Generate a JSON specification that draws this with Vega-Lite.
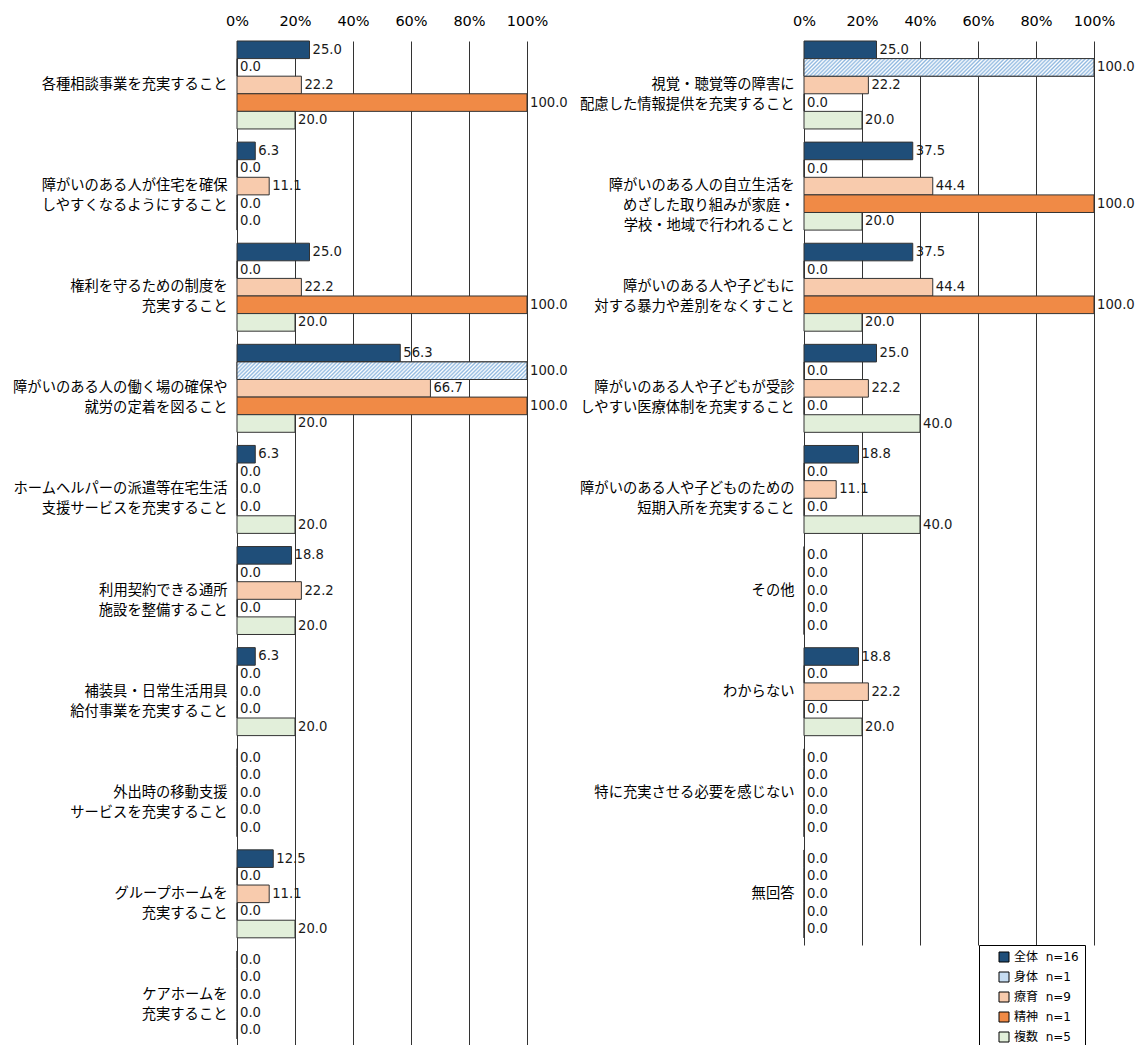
{
"$schema": "https://vega.github.io/schema/vega-lite/v6.json",
"background": "white",
"padding": {"left": 12, "top": 13, "right": 0, "bottom": 0},
"datasets": {"rows": [
{"panel":"L","item":"各種相談事業を充実すること","group":"全体","value":25.0},
{"panel":"L","item":"各種相談事業を充実すること","group":"身体","value":0.0},
{"panel":"L","item":"各種相談事業を充実すること","group":"療育","value":22.2},
{"panel":"L","item":"各種相談事業を充実すること","group":"精神","value":100.0},
{"panel":"L","item":"各種相談事業を充実すること","group":"複数","value":20.0},
{"panel":"L","item":"障がいのある人が住宅を確保|しやすくなるようにすること","group":"全体","value":6.3},
{"panel":"L","item":"障がいのある人が住宅を確保|しやすくなるようにすること","group":"身体","value":0.0},
{"panel":"L","item":"障がいのある人が住宅を確保|しやすくなるようにすること","group":"療育","value":11.1},
{"panel":"L","item":"障がいのある人が住宅を確保|しやすくなるようにすること","group":"精神","value":0.0},
{"panel":"L","item":"障がいのある人が住宅を確保|しやすくなるようにすること","group":"複数","value":0.0},
{"panel":"L","item":"権利を守るための制度を|充実すること","group":"全体","value":25.0},
{"panel":"L","item":"権利を守るための制度を|充実すること","group":"身体","value":0.0},
{"panel":"L","item":"権利を守るための制度を|充実すること","group":"療育","value":22.2},
{"panel":"L","item":"権利を守るための制度を|充実すること","group":"精神","value":100.0},
{"panel":"L","item":"権利を守るための制度を|充実すること","group":"複数","value":20.0},
{"panel":"L","item":"障がいのある人の働く場の確保や|就労の定着を図ること","group":"全体","value":56.3},
{"panel":"L","item":"障がいのある人の働く場の確保や|就労の定着を図ること","group":"身体","value":100.0},
{"panel":"L","item":"障がいのある人の働く場の確保や|就労の定着を図ること","group":"療育","value":66.7},
{"panel":"L","item":"障がいのある人の働く場の確保や|就労の定着を図ること","group":"精神","value":100.0},
{"panel":"L","item":"障がいのある人の働く場の確保や|就労の定着を図ること","group":"複数","value":20.0},
{"panel":"L","item":"ホームヘルパーの派遣等在宅生活|支援サービスを充実すること","group":"全体","value":6.3},
{"panel":"L","item":"ホームヘルパーの派遣等在宅生活|支援サービスを充実すること","group":"身体","value":0.0},
{"panel":"L","item":"ホームヘルパーの派遣等在宅生活|支援サービスを充実すること","group":"療育","value":0.0},
{"panel":"L","item":"ホームヘルパーの派遣等在宅生活|支援サービスを充実すること","group":"精神","value":0.0},
{"panel":"L","item":"ホームヘルパーの派遣等在宅生活|支援サービスを充実すること","group":"複数","value":20.0},
{"panel":"L","item":"利用契約できる通所|施設を整備すること","group":"全体","value":18.8},
{"panel":"L","item":"利用契約できる通所|施設を整備すること","group":"身体","value":0.0},
{"panel":"L","item":"利用契約できる通所|施設を整備すること","group":"療育","value":22.2},
{"panel":"L","item":"利用契約できる通所|施設を整備すること","group":"精神","value":0.0},
{"panel":"L","item":"利用契約できる通所|施設を整備すること","group":"複数","value":20.0},
{"panel":"L","item":"補装具・日常生活用具|給付事業を充実すること","group":"全体","value":6.3},
{"panel":"L","item":"補装具・日常生活用具|給付事業を充実すること","group":"身体","value":0.0},
{"panel":"L","item":"補装具・日常生活用具|給付事業を充実すること","group":"療育","value":0.0},
{"panel":"L","item":"補装具・日常生活用具|給付事業を充実すること","group":"精神","value":0.0},
{"panel":"L","item":"補装具・日常生活用具|給付事業を充実すること","group":"複数","value":20.0},
{"panel":"L","item":"外出時の移動支援|サービスを充実すること","group":"全体","value":0.0},
{"panel":"L","item":"外出時の移動支援|サービスを充実すること","group":"身体","value":0.0},
{"panel":"L","item":"外出時の移動支援|サービスを充実すること","group":"療育","value":0.0},
{"panel":"L","item":"外出時の移動支援|サービスを充実すること","group":"精神","value":0.0},
{"panel":"L","item":"外出時の移動支援|サービスを充実すること","group":"複数","value":0.0},
{"panel":"L","item":"グループホームを|充実すること","group":"全体","value":12.5},
{"panel":"L","item":"グループホームを|充実すること","group":"身体","value":0.0},
{"panel":"L","item":"グループホームを|充実すること","group":"療育","value":11.1},
{"panel":"L","item":"グループホームを|充実すること","group":"精神","value":0.0},
{"panel":"L","item":"グループホームを|充実すること","group":"複数","value":20.0},
{"panel":"L","item":"ケアホームを|充実すること","group":"全体","value":0.0},
{"panel":"L","item":"ケアホームを|充実すること","group":"身体","value":0.0},
{"panel":"L","item":"ケアホームを|充実すること","group":"療育","value":0.0},
{"panel":"L","item":"ケアホームを|充実すること","group":"精神","value":0.0},
{"panel":"L","item":"ケアホームを|充実すること","group":"複数","value":0.0},
{"panel":"R","item":"視覚・聴覚等の障害に|配慮した情報提供を充実すること","group":"全体","value":25.0},
{"panel":"R","item":"視覚・聴覚等の障害に|配慮した情報提供を充実すること","group":"身体","value":100.0},
{"panel":"R","item":"視覚・聴覚等の障害に|配慮した情報提供を充実すること","group":"療育","value":22.2},
{"panel":"R","item":"視覚・聴覚等の障害に|配慮した情報提供を充実すること","group":"精神","value":0.0},
{"panel":"R","item":"視覚・聴覚等の障害に|配慮した情報提供を充実すること","group":"複数","value":20.0},
{"panel":"R","item":"障がいのある人の自立生活を|めざした取り組みが家庭・|学校・地域で行われること","group":"全体","value":37.5},
{"panel":"R","item":"障がいのある人の自立生活を|めざした取り組みが家庭・|学校・地域で行われること","group":"身体","value":0.0},
{"panel":"R","item":"障がいのある人の自立生活を|めざした取り組みが家庭・|学校・地域で行われること","group":"療育","value":44.4},
{"panel":"R","item":"障がいのある人の自立生活を|めざした取り組みが家庭・|学校・地域で行われること","group":"精神","value":100.0},
{"panel":"R","item":"障がいのある人の自立生活を|めざした取り組みが家庭・|学校・地域で行われること","group":"複数","value":20.0},
{"panel":"R","item":"障がいのある人や子どもに|対する暴力や差別をなくすこと","group":"全体","value":37.5},
{"panel":"R","item":"障がいのある人や子どもに|対する暴力や差別をなくすこと","group":"身体","value":0.0},
{"panel":"R","item":"障がいのある人や子どもに|対する暴力や差別をなくすこと","group":"療育","value":44.4},
{"panel":"R","item":"障がいのある人や子どもに|対する暴力や差別をなくすこと","group":"精神","value":100.0},
{"panel":"R","item":"障がいのある人や子どもに|対する暴力や差別をなくすこと","group":"複数","value":20.0},
{"panel":"R","item":"障がいのある人や子どもが受診|しやすい医療体制を充実すること","group":"全体","value":25.0},
{"panel":"R","item":"障がいのある人や子どもが受診|しやすい医療体制を充実すること","group":"身体","value":0.0},
{"panel":"R","item":"障がいのある人や子どもが受診|しやすい医療体制を充実すること","group":"療育","value":22.2},
{"panel":"R","item":"障がいのある人や子どもが受診|しやすい医療体制を充実すること","group":"精神","value":0.0},
{"panel":"R","item":"障がいのある人や子どもが受診|しやすい医療体制を充実すること","group":"複数","value":40.0},
{"panel":"R","item":"障がいのある人や子どものための|短期入所を充実すること","group":"全体","value":18.8},
{"panel":"R","item":"障がいのある人や子どものための|短期入所を充実すること","group":"身体","value":0.0},
{"panel":"R","item":"障がいのある人や子どものための|短期入所を充実すること","group":"療育","value":11.1},
{"panel":"R","item":"障がいのある人や子どものための|短期入所を充実すること","group":"精神","value":0.0},
{"panel":"R","item":"障がいのある人や子どものための|短期入所を充実すること","group":"複数","value":40.0},
{"panel":"R","item":"その他","group":"全体","value":0.0},
{"panel":"R","item":"その他","group":"身体","value":0.0},
{"panel":"R","item":"その他","group":"療育","value":0.0},
{"panel":"R","item":"その他","group":"精神","value":0.0},
{"panel":"R","item":"その他","group":"複数","value":0.0},
{"panel":"R","item":"わからない","group":"全体","value":18.8},
{"panel":"R","item":"わからない","group":"身体","value":0.0},
{"panel":"R","item":"わからない","group":"療育","value":22.2},
{"panel":"R","item":"わからない","group":"精神","value":0.0},
{"panel":"R","item":"わからない","group":"複数","value":20.0},
{"panel":"R","item":"特に充実させる必要を感じない","group":"全体","value":0.0},
{"panel":"R","item":"特に充実させる必要を感じない","group":"身体","value":0.0},
{"panel":"R","item":"特に充実させる必要を感じない","group":"療育","value":0.0},
{"panel":"R","item":"特に充実させる必要を感じない","group":"精神","value":0.0},
{"panel":"R","item":"特に充実させる必要を感じない","group":"複数","value":0.0},
{"panel":"R","item":"無回答","group":"全体","value":0.0},
{"panel":"R","item":"無回答","group":"身体","value":0.0},
{"panel":"R","item":"無回答","group":"療育","value":0.0},
{"panel":"R","item":"無回答","group":"精神","value":0.0},
{"panel":"R","item":"無回答","group":"複数","value":0.0}
]},
"hconcat": [
{
"width": 290, "height": 1005,
"data": {"name": "rows"},
"transform": [{"filter": "datum.panel === 'L'"}],
"encoding": {
"x": {"field": "value", "type": "quantitative", "scale": {"domain": [0, 100]}, "axis": {"orient": "top", "values": [0, 20, 40, 60, 80, 100], "labelExpr": "datum.value + '%'", "ticks": false, "domain": false, "grid": true, "gridColor": "#333333", "gridWidth": 1, "labelFont": "DejaVu Sans", "labelFontSize": 14.5, "labelPadding": 13, "labelFlush": false, "labelColor": "#000", "title": null}},
"y": {"field": "item", "type": "nominal", "sort": null, "scale": {"paddingInner": 0.13, "paddingOuter": 0.035, "align": 0}, "axis": {"title": null, "ticks": false, "domain": false, "labelExpr": "split(datum.label, '|')", "labelFont": "Noto Sans CJK JP", "labelFontSize": 14.3, "labelLineHeight": 20, "labelPadding": 10, "labelColor": "#000", "labelLimit": 0}},
"yOffset": {"field": "group", "type": "nominal", "sort": ["全体", "身体", "療育", "精神", "複数"], "scale": {"paddingInner": 0, "paddingOuter": 0}}
},
"layer": [
{"mark": {"type": "bar", "stroke": "#333333", "strokeWidth": 1},
 "encoding": {"color": {"field": "group", "type": "nominal", "scale": {"domain": ["全体", "身体", "療育", "精神", "複数"], "range": ["#1f4e79", "#c5dcf1", "#f8cbad", "#f08a46", "#e2efda"]}, "legend": null}}},
{"mark": {"type": "bar", "stroke": "#333333", "strokeWidth": 1, "fill": {"gradient": "linear", "x1": 0, "y1": 0, "x2": 1.06, "y2": 0.0643, "stops": [
{"offset":0,"color":"#8fb8e0"},{"offset":0.00625,"color":"#ffffff"},{"offset":0.0125,"color":"#8fb8e0"},{"offset":0.01875,"color":"#ffffff"},{"offset":0.025,"color":"#8fb8e0"},{"offset":0.03125,"color":"#ffffff"},{"offset":0.0375,"color":"#8fb8e0"},{"offset":0.04375,"color":"#ffffff"},{"offset":0.05,"color":"#8fb8e0"},{"offset":0.05625,"color":"#ffffff"},{"offset":0.0625,"color":"#8fb8e0"},{"offset":0.06875,"color":"#ffffff"},{"offset":0.075,"color":"#8fb8e0"},{"offset":0.08125,"color":"#ffffff"},{"offset":0.0875,"color":"#8fb8e0"},{"offset":0.09375,"color":"#ffffff"},
{"offset":0.1,"color":"#8fb8e0"},{"offset":0.10625,"color":"#ffffff"},{"offset":0.1125,"color":"#8fb8e0"},{"offset":0.11875,"color":"#ffffff"},{"offset":0.125,"color":"#8fb8e0"},{"offset":0.13125,"color":"#ffffff"},{"offset":0.1375,"color":"#8fb8e0"},{"offset":0.14375,"color":"#ffffff"},{"offset":0.15,"color":"#8fb8e0"},{"offset":0.15625,"color":"#ffffff"},{"offset":0.1625,"color":"#8fb8e0"},{"offset":0.16875,"color":"#ffffff"},{"offset":0.175,"color":"#8fb8e0"},{"offset":0.18125,"color":"#ffffff"},{"offset":0.1875,"color":"#8fb8e0"},{"offset":0.19375,"color":"#ffffff"},
{"offset":0.2,"color":"#8fb8e0"},{"offset":0.20625,"color":"#ffffff"},{"offset":0.2125,"color":"#8fb8e0"},{"offset":0.21875,"color":"#ffffff"},{"offset":0.225,"color":"#8fb8e0"},{"offset":0.23125,"color":"#ffffff"},{"offset":0.2375,"color":"#8fb8e0"},{"offset":0.24375,"color":"#ffffff"},{"offset":0.25,"color":"#8fb8e0"},{"offset":0.25625,"color":"#ffffff"},{"offset":0.2625,"color":"#8fb8e0"},{"offset":0.26875,"color":"#ffffff"},{"offset":0.275,"color":"#8fb8e0"},{"offset":0.28125,"color":"#ffffff"},{"offset":0.2875,"color":"#8fb8e0"},{"offset":0.29375,"color":"#ffffff"},
{"offset":0.3,"color":"#8fb8e0"},{"offset":0.30625,"color":"#ffffff"},{"offset":0.3125,"color":"#8fb8e0"},{"offset":0.31875,"color":"#ffffff"},{"offset":0.325,"color":"#8fb8e0"},{"offset":0.33125,"color":"#ffffff"},{"offset":0.3375,"color":"#8fb8e0"},{"offset":0.34375,"color":"#ffffff"},{"offset":0.35,"color":"#8fb8e0"},{"offset":0.35625,"color":"#ffffff"},{"offset":0.3625,"color":"#8fb8e0"},{"offset":0.36875,"color":"#ffffff"},{"offset":0.375,"color":"#8fb8e0"},{"offset":0.38125,"color":"#ffffff"},{"offset":0.3875,"color":"#8fb8e0"},{"offset":0.39375,"color":"#ffffff"},
{"offset":0.4,"color":"#8fb8e0"},{"offset":0.40625,"color":"#ffffff"},{"offset":0.4125,"color":"#8fb8e0"},{"offset":0.41875,"color":"#ffffff"},{"offset":0.425,"color":"#8fb8e0"},{"offset":0.43125,"color":"#ffffff"},{"offset":0.4375,"color":"#8fb8e0"},{"offset":0.44375,"color":"#ffffff"},{"offset":0.45,"color":"#8fb8e0"},{"offset":0.45625,"color":"#ffffff"},{"offset":0.4625,"color":"#8fb8e0"},{"offset":0.46875,"color":"#ffffff"},{"offset":0.475,"color":"#8fb8e0"},{"offset":0.48125,"color":"#ffffff"},{"offset":0.4875,"color":"#8fb8e0"},{"offset":0.49375,"color":"#ffffff"},
{"offset":0.5,"color":"#8fb8e0"},{"offset":0.50625,"color":"#ffffff"},{"offset":0.5125,"color":"#8fb8e0"},{"offset":0.51875,"color":"#ffffff"},{"offset":0.525,"color":"#8fb8e0"},{"offset":0.53125,"color":"#ffffff"},{"offset":0.5375,"color":"#8fb8e0"},{"offset":0.54375,"color":"#ffffff"},{"offset":0.55,"color":"#8fb8e0"},{"offset":0.55625,"color":"#ffffff"},{"offset":0.5625,"color":"#8fb8e0"},{"offset":0.56875,"color":"#ffffff"},{"offset":0.575,"color":"#8fb8e0"},{"offset":0.58125,"color":"#ffffff"},{"offset":0.5875,"color":"#8fb8e0"},{"offset":0.59375,"color":"#ffffff"},
{"offset":0.6,"color":"#8fb8e0"},{"offset":0.60625,"color":"#ffffff"},{"offset":0.6125,"color":"#8fb8e0"},{"offset":0.61875,"color":"#ffffff"},{"offset":0.625,"color":"#8fb8e0"},{"offset":0.63125,"color":"#ffffff"},{"offset":0.6375,"color":"#8fb8e0"},{"offset":0.64375,"color":"#ffffff"},{"offset":0.65,"color":"#8fb8e0"},{"offset":0.65625,"color":"#ffffff"},{"offset":0.6625,"color":"#8fb8e0"},{"offset":0.66875,"color":"#ffffff"},{"offset":0.675,"color":"#8fb8e0"},{"offset":0.68125,"color":"#ffffff"},{"offset":0.6875,"color":"#8fb8e0"},{"offset":0.69375,"color":"#ffffff"},
{"offset":0.7,"color":"#8fb8e0"},{"offset":0.70625,"color":"#ffffff"},{"offset":0.7125,"color":"#8fb8e0"},{"offset":0.71875,"color":"#ffffff"},{"offset":0.725,"color":"#8fb8e0"},{"offset":0.73125,"color":"#ffffff"},{"offset":0.7375,"color":"#8fb8e0"},{"offset":0.74375,"color":"#ffffff"},{"offset":0.75,"color":"#8fb8e0"},{"offset":0.75625,"color":"#ffffff"},{"offset":0.7625,"color":"#8fb8e0"},{"offset":0.76875,"color":"#ffffff"},{"offset":0.775,"color":"#8fb8e0"},{"offset":0.78125,"color":"#ffffff"},{"offset":0.7875,"color":"#8fb8e0"},{"offset":0.79375,"color":"#ffffff"},
{"offset":0.8,"color":"#8fb8e0"},{"offset":0.80625,"color":"#ffffff"},{"offset":0.8125,"color":"#8fb8e0"},{"offset":0.81875,"color":"#ffffff"},{"offset":0.825,"color":"#8fb8e0"},{"offset":0.83125,"color":"#ffffff"},{"offset":0.8375,"color":"#8fb8e0"},{"offset":0.84375,"color":"#ffffff"},{"offset":0.85,"color":"#8fb8e0"},{"offset":0.85625,"color":"#ffffff"},{"offset":0.8625,"color":"#8fb8e0"},{"offset":0.86875,"color":"#ffffff"},{"offset":0.875,"color":"#8fb8e0"},{"offset":0.88125,"color":"#ffffff"},{"offset":0.8875,"color":"#8fb8e0"},{"offset":0.89375,"color":"#ffffff"},
{"offset":0.9,"color":"#8fb8e0"},{"offset":0.90625,"color":"#ffffff"},{"offset":0.9125,"color":"#8fb8e0"},{"offset":0.91875,"color":"#ffffff"},{"offset":0.925,"color":"#8fb8e0"},{"offset":0.93125,"color":"#ffffff"},{"offset":0.9375,"color":"#8fb8e0"},{"offset":0.94375,"color":"#ffffff"},{"offset":0.95,"color":"#8fb8e0"},{"offset":0.95625,"color":"#ffffff"},{"offset":0.9625,"color":"#8fb8e0"},{"offset":0.96875,"color":"#ffffff"},{"offset":0.975,"color":"#8fb8e0"},{"offset":0.98125,"color":"#ffffff"},{"offset":0.9875,"color":"#8fb8e0"},{"offset":0.99375,"color":"#ffffff"},{"offset":1,"color":"#8fb8e0"}
]}},
 "encoding": {"fillOpacity": {"condition": {"test": "datum.group === '身体' && datum.value > 0", "value": 1}, "value": 0}, "strokeOpacity": {"condition": {"test": "datum.group === '身体' && datum.value > 0", "value": 1}, "value": 0}}},
{"mark": {"type": "text", "align": "left", "baseline": "middle", "dx": 3, "font": "DejaVu Sans", "fontSize": 13.2, "color": "#1a1a1a"},
 "encoding": {"text": {"field": "value", "type": "quantitative", "format": ".1f"}}}
]
},
{
"width": 290, "height": 904,
"data": {"name": "rows"},
"transform": [{"filter": "datum.panel === 'R'"}],
"encoding": {
"x": {"field": "value", "type": "quantitative", "scale": {"domain": [0, 100]}, "axis": {"orient": "top", "values": [0, 20, 40, 60, 80, 100], "labelExpr": "datum.value + '%'", "ticks": false, "domain": false, "grid": true, "gridColor": "#333333", "gridWidth": 1, "labelFont": "DejaVu Sans", "labelFontSize": 14.5, "labelPadding": 13, "labelFlush": false, "labelColor": "#000", "title": null}},
"y": {"field": "item", "type": "nominal", "sort": null, "scale": {"paddingInner": 0.13, "paddingOuter": 0.035, "align": 0}, "axis": {"title": null, "ticks": false, "domain": false, "labelExpr": "split(datum.label, '|')", "labelFont": "Noto Sans CJK JP", "labelFontSize": 14.3, "labelLineHeight": 20, "labelPadding": 10, "labelColor": "#000", "labelLimit": 0}},
"yOffset": {"field": "group", "type": "nominal", "sort": ["全体", "身体", "療育", "精神", "複数"], "scale": {"paddingInner": 0, "paddingOuter": 0}}
},
"layer": [
{"mark": {"type": "bar", "stroke": "#333333", "strokeWidth": 1},
 "encoding": {"color": {"field": "group", "type": "nominal", "scale": {"domain": ["全体", "身体", "療育", "精神", "複数"], "range": ["#1f4e79", "#c5dcf1", "#f8cbad", "#f08a46", "#e2efda"]},
  "legend": {"title": null, "orient": "none", "legendX": 175, "legendY": 904, "direction": "vertical", "symbolType": "square", "symbolSize": 100, "symbolStrokeColor": "#000", "symbolStrokeWidth": 1, "symbolOffset": 13, "labelFont": "DejaVu Sans, Noto Sans CJK JP", "labelFontSize": 12, "labelColor": "#000", "rowPadding": 6, "padding": 6, "strokeColor": "#000", "fillColor": "#fff", "labelOffset": 4,
   "labelExpr": "datum.label + '\u00a0 n=' + (datum.label === '全体' ? '16' : datum.label === '療育' ? '9' : datum.label === '複数' ? '5' : '1')"}}}},
{"mark": {"type": "bar", "stroke": "#333333", "strokeWidth": 1, "fill": {"gradient": "linear", "x1": 0, "y1": 0, "x2": 1.06, "y2": 0.0643, "stops": [
{"offset":0,"color":"#8fb8e0"},{"offset":0.00625,"color":"#ffffff"},{"offset":0.0125,"color":"#8fb8e0"},{"offset":0.01875,"color":"#ffffff"},{"offset":0.025,"color":"#8fb8e0"},{"offset":0.03125,"color":"#ffffff"},{"offset":0.0375,"color":"#8fb8e0"},{"offset":0.04375,"color":"#ffffff"},{"offset":0.05,"color":"#8fb8e0"},{"offset":0.05625,"color":"#ffffff"},{"offset":0.0625,"color":"#8fb8e0"},{"offset":0.06875,"color":"#ffffff"},{"offset":0.075,"color":"#8fb8e0"},{"offset":0.08125,"color":"#ffffff"},{"offset":0.0875,"color":"#8fb8e0"},{"offset":0.09375,"color":"#ffffff"},
{"offset":0.1,"color":"#8fb8e0"},{"offset":0.10625,"color":"#ffffff"},{"offset":0.1125,"color":"#8fb8e0"},{"offset":0.11875,"color":"#ffffff"},{"offset":0.125,"color":"#8fb8e0"},{"offset":0.13125,"color":"#ffffff"},{"offset":0.1375,"color":"#8fb8e0"},{"offset":0.14375,"color":"#ffffff"},{"offset":0.15,"color":"#8fb8e0"},{"offset":0.15625,"color":"#ffffff"},{"offset":0.1625,"color":"#8fb8e0"},{"offset":0.16875,"color":"#ffffff"},{"offset":0.175,"color":"#8fb8e0"},{"offset":0.18125,"color":"#ffffff"},{"offset":0.1875,"color":"#8fb8e0"},{"offset":0.19375,"color":"#ffffff"},
{"offset":0.2,"color":"#8fb8e0"},{"offset":0.20625,"color":"#ffffff"},{"offset":0.2125,"color":"#8fb8e0"},{"offset":0.21875,"color":"#ffffff"},{"offset":0.225,"color":"#8fb8e0"},{"offset":0.23125,"color":"#ffffff"},{"offset":0.2375,"color":"#8fb8e0"},{"offset":0.24375,"color":"#ffffff"},{"offset":0.25,"color":"#8fb8e0"},{"offset":0.25625,"color":"#ffffff"},{"offset":0.2625,"color":"#8fb8e0"},{"offset":0.26875,"color":"#ffffff"},{"offset":0.275,"color":"#8fb8e0"},{"offset":0.28125,"color":"#ffffff"},{"offset":0.2875,"color":"#8fb8e0"},{"offset":0.29375,"color":"#ffffff"},
{"offset":0.3,"color":"#8fb8e0"},{"offset":0.30625,"color":"#ffffff"},{"offset":0.3125,"color":"#8fb8e0"},{"offset":0.31875,"color":"#ffffff"},{"offset":0.325,"color":"#8fb8e0"},{"offset":0.33125,"color":"#ffffff"},{"offset":0.3375,"color":"#8fb8e0"},{"offset":0.34375,"color":"#ffffff"},{"offset":0.35,"color":"#8fb8e0"},{"offset":0.35625,"color":"#ffffff"},{"offset":0.3625,"color":"#8fb8e0"},{"offset":0.36875,"color":"#ffffff"},{"offset":0.375,"color":"#8fb8e0"},{"offset":0.38125,"color":"#ffffff"},{"offset":0.3875,"color":"#8fb8e0"},{"offset":0.39375,"color":"#ffffff"},
{"offset":0.4,"color":"#8fb8e0"},{"offset":0.40625,"color":"#ffffff"},{"offset":0.4125,"color":"#8fb8e0"},{"offset":0.41875,"color":"#ffffff"},{"offset":0.425,"color":"#8fb8e0"},{"offset":0.43125,"color":"#ffffff"},{"offset":0.4375,"color":"#8fb8e0"},{"offset":0.44375,"color":"#ffffff"},{"offset":0.45,"color":"#8fb8e0"},{"offset":0.45625,"color":"#ffffff"},{"offset":0.4625,"color":"#8fb8e0"},{"offset":0.46875,"color":"#ffffff"},{"offset":0.475,"color":"#8fb8e0"},{"offset":0.48125,"color":"#ffffff"},{"offset":0.4875,"color":"#8fb8e0"},{"offset":0.49375,"color":"#ffffff"},
{"offset":0.5,"color":"#8fb8e0"},{"offset":0.50625,"color":"#ffffff"},{"offset":0.5125,"color":"#8fb8e0"},{"offset":0.51875,"color":"#ffffff"},{"offset":0.525,"color":"#8fb8e0"},{"offset":0.53125,"color":"#ffffff"},{"offset":0.5375,"color":"#8fb8e0"},{"offset":0.54375,"color":"#ffffff"},{"offset":0.55,"color":"#8fb8e0"},{"offset":0.55625,"color":"#ffffff"},{"offset":0.5625,"color":"#8fb8e0"},{"offset":0.56875,"color":"#ffffff"},{"offset":0.575,"color":"#8fb8e0"},{"offset":0.58125,"color":"#ffffff"},{"offset":0.5875,"color":"#8fb8e0"},{"offset":0.59375,"color":"#ffffff"},
{"offset":0.6,"color":"#8fb8e0"},{"offset":0.60625,"color":"#ffffff"},{"offset":0.6125,"color":"#8fb8e0"},{"offset":0.61875,"color":"#ffffff"},{"offset":0.625,"color":"#8fb8e0"},{"offset":0.63125,"color":"#ffffff"},{"offset":0.6375,"color":"#8fb8e0"},{"offset":0.64375,"color":"#ffffff"},{"offset":0.65,"color":"#8fb8e0"},{"offset":0.65625,"color":"#ffffff"},{"offset":0.6625,"color":"#8fb8e0"},{"offset":0.66875,"color":"#ffffff"},{"offset":0.675,"color":"#8fb8e0"},{"offset":0.68125,"color":"#ffffff"},{"offset":0.6875,"color":"#8fb8e0"},{"offset":0.69375,"color":"#ffffff"},
{"offset":0.7,"color":"#8fb8e0"},{"offset":0.70625,"color":"#ffffff"},{"offset":0.7125,"color":"#8fb8e0"},{"offset":0.71875,"color":"#ffffff"},{"offset":0.725,"color":"#8fb8e0"},{"offset":0.73125,"color":"#ffffff"},{"offset":0.7375,"color":"#8fb8e0"},{"offset":0.74375,"color":"#ffffff"},{"offset":0.75,"color":"#8fb8e0"},{"offset":0.75625,"color":"#ffffff"},{"offset":0.7625,"color":"#8fb8e0"},{"offset":0.76875,"color":"#ffffff"},{"offset":0.775,"color":"#8fb8e0"},{"offset":0.78125,"color":"#ffffff"},{"offset":0.7875,"color":"#8fb8e0"},{"offset":0.79375,"color":"#ffffff"},
{"offset":0.8,"color":"#8fb8e0"},{"offset":0.80625,"color":"#ffffff"},{"offset":0.8125,"color":"#8fb8e0"},{"offset":0.81875,"color":"#ffffff"},{"offset":0.825,"color":"#8fb8e0"},{"offset":0.83125,"color":"#ffffff"},{"offset":0.8375,"color":"#8fb8e0"},{"offset":0.84375,"color":"#ffffff"},{"offset":0.85,"color":"#8fb8e0"},{"offset":0.85625,"color":"#ffffff"},{"offset":0.8625,"color":"#8fb8e0"},{"offset":0.86875,"color":"#ffffff"},{"offset":0.875,"color":"#8fb8e0"},{"offset":0.88125,"color":"#ffffff"},{"offset":0.8875,"color":"#8fb8e0"},{"offset":0.89375,"color":"#ffffff"},
{"offset":0.9,"color":"#8fb8e0"},{"offset":0.90625,"color":"#ffffff"},{"offset":0.9125,"color":"#8fb8e0"},{"offset":0.91875,"color":"#ffffff"},{"offset":0.925,"color":"#8fb8e0"},{"offset":0.93125,"color":"#ffffff"},{"offset":0.9375,"color":"#8fb8e0"},{"offset":0.94375,"color":"#ffffff"},{"offset":0.95,"color":"#8fb8e0"},{"offset":0.95625,"color":"#ffffff"},{"offset":0.9625,"color":"#8fb8e0"},{"offset":0.96875,"color":"#ffffff"},{"offset":0.975,"color":"#8fb8e0"},{"offset":0.98125,"color":"#ffffff"},{"offset":0.9875,"color":"#8fb8e0"},{"offset":0.99375,"color":"#ffffff"},{"offset":1,"color":"#8fb8e0"}
]}},
 "encoding": {"fillOpacity": {"condition": {"test": "datum.group === '身体' && datum.value > 0", "value": 1}, "value": 0}, "strokeOpacity": {"condition": {"test": "datum.group === '身体' && datum.value > 0", "value": 1}, "value": 0}}},
{"mark": {"type": "text", "align": "left", "baseline": "middle", "dx": 3, "font": "DejaVu Sans", "fontSize": 13.2, "color": "#1a1a1a"},
 "encoding": {"text": {"field": "value", "type": "quantitative", "format": ".1f"}}}
]
}
],
"spacing": 277,
"bounds": "flush",
"resolve": {"scale": {"y": "independent", "color": "independent"}, "legend": {"color": "independent"}},
"config": {"view": {"stroke": null}}
}
